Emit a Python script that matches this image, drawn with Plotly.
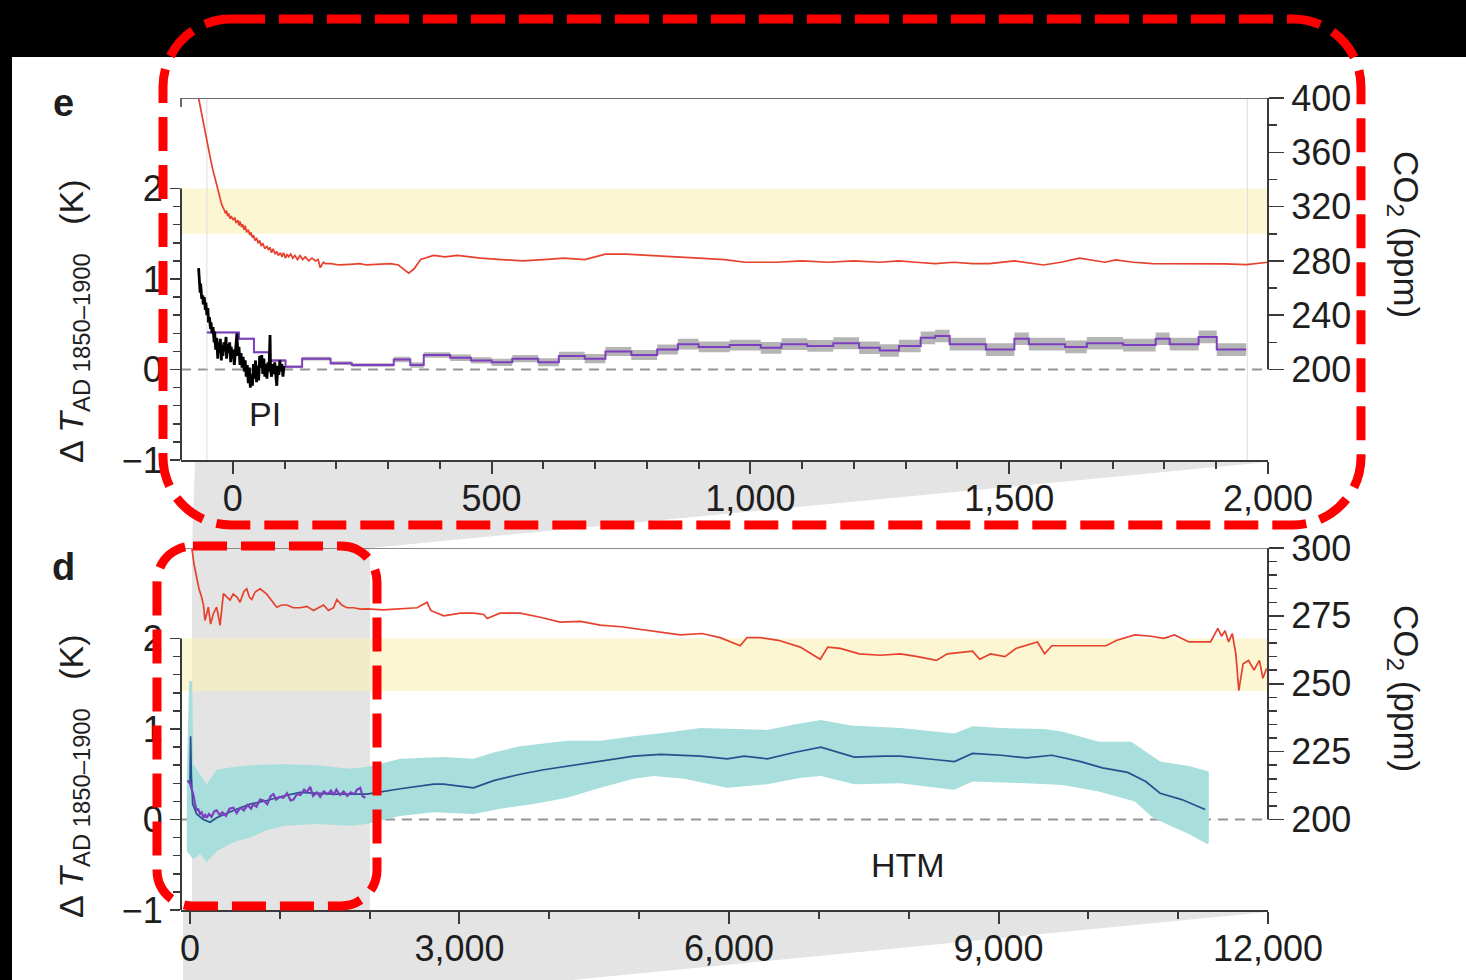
import plotly.graph_objects as go

W, H = 1466, 980

# ---------------- DATA ----------------
# Panel e (top): years, temperature anomaly (K) and CO2 (ppm)
e_co2_years = [-66, -60, -54, -49, -44, -39, -34, -29, -25, -21, -17, -14, -12, -10, -8, -5, -3, 1, 4, 6, 10, 12, 14, 17, 19, 22, 24, 27, 30, 33, 35, 38, 40, 43, 46, 49, 52, 55, 58, 62, 66, 69, 72, 75, 78, 82, 85, 88, 92, 95, 98, 102, 105, 108, 112, 116, 120, 125, 130, 135, 140, 147, 153, 160, 165, 169, 175, 179, 190, 205, 227, 245, 259, 280, 305, 320, 340, 350, 363, 388, 410, 434, 455, 479, 520, 560, 600, 640, 680, 720, 760, 800, 850, 900, 950, 990, 1050, 1100, 1150, 1200, 1250, 1287, 1320, 1357, 1392, 1430, 1462, 1510, 1566, 1600, 1636, 1685, 1706, 1740, 1777, 1847, 1916, 1958, 2000]
e_co2_ppm = [400, 388, 375, 366, 357, 348, 340, 332, 326, 321, 318, 315, 317, 313, 315, 311, 313, 310, 312, 308, 310, 306, 309, 305, 307, 303, 306, 301, 303, 299, 301, 297, 299, 295, 297, 293, 295, 291, 293, 289, 291, 288, 290, 286, 289, 285, 287, 284, 286, 283, 286, 282, 285, 283, 285, 282, 284, 281, 284, 281, 283, 280, 282, 280, 281, 275, 279, 278, 278, 277, 277.5, 278, 277, 277.5, 278, 277, 271, 274, 281, 284, 283, 284, 283, 282, 281, 280, 281, 282, 281, 285, 285, 284, 283, 282, 281, 279, 279, 280, 279, 280, 279, 280, 279, 278, 279, 278, 278, 280, 277, 279, 282, 279, 280.7, 279, 278, 278, 277.8, 277.3, 279]

pi_years = [-66, -65, -63, -62, -60, -58, -57, -55, -53, -52, -50, -48, -47, -45, -43, -42, -40, -38, -36, -35, -33, -31, -29, -28, -26, -24, -22, -21, -19, -17, -15, -13, -12, -10, -8, -6, -4, -3, -1, 1, 3, 5, 7, 8, 10, 12, 14, 16, 18, 20, 22, 24, 26, 28, 30, 32, 34, 36, 38, 40, 42, 44, 46, 48, 50, 52, 54, 56, 58, 60, 62, 64, 66, 68, 70, 72, 73, 75, 77, 79, 81, 83, 85, 87, 89, 91, 93, 95, 97, 99]
pi_temp = [1.12, 1.02, 0.85, 0.95, 0.78, 0.82, 0.72, 0.80, 0.66, 0.74, 0.60, 0.68, 0.52, 0.58, 0.45, 0.52, 0.40, 0.47, 0.30, 0.42, 0.22, 0.35, 0.12, 0.30, 0.18, 0.34, 0.10, 0.27, 0.15, 0.30, 0.20, 0.36, 0.12, 0.28, 0.18, 0.30, 0.08, 0.25, 0.12, 0.22, 0.05, 0.18, 0.28, 0.40, 0.15, 0.25, 0.05, 0.18, 0.02, 0.14, -0.02, 0.10, -0.08, 0.05, -0.15, 0.02, -0.20, -0.05, -0.18, 0.06, -0.10, 0.10, -0.14, 0.04, -0.12, 0.15, 0.02, 0.16, -0.05, 0.12, -0.08, 0.06, -0.10, 0.08, -0.02, 0.38, 0.00, -0.08, 0.06, -0.05, 0.08, -0.12, -0.18, 0.04, -0.06, 0.10, -0.02, 0.06, -0.08, 0.04]

e_step_years = [-50, 12, 41, 70, 102, 134, 189, 230, 311, 343, 369, 420, 460, 500, 540, 590, 630, 680, 720, 770, 820, 860, 900, 960, 1020, 1060, 1110, 1160, 1210, 1250, 1287, 1329, 1357, 1385, 1455, 1510, 1538, 1608, 1650, 1720, 1783, 1810, 1866, 1901, 1958]
e_step_temp = [0.41, 0.34, 0.19, 0.10, 0.03, 0.12, 0.07, 0.05, 0.11, 0.05, 0.16, 0.13, 0.10, 0.08, 0.12, 0.08, 0.15, 0.12, 0.20, 0.16, 0.22, 0.28, 0.25, 0.27, 0.24, 0.28, 0.26, 0.29, 0.24, 0.21, 0.26, 0.35, 0.37, 0.28, 0.22, 0.34, 0.28, 0.25, 0.29, 0.27, 0.34, 0.28, 0.36, 0.22, 0.22]
e_step_unc = [0.01, 0.01, 0.01, 0.015, 0.015, 0.02, 0.02, 0.02, 0.03, 0.03, 0.03, 0.035, 0.035, 0.04, 0.04, 0.045, 0.045, 0.05, 0.05, 0.055, 0.055, 0.06, 0.06, 0.06, 0.065, 0.065, 0.065, 0.065, 0.07, 0.07, 0.07, 0.07, 0.07, 0.07, 0.07, 0.07, 0.07, 0.07, 0.07, 0.07, 0.07, 0.07, 0.07, 0.07, 0.07]

# Panel d (bottom)
d_co2_years = [10, 19, 45, 74, 100, 130, 150, 167, 185, 204, 230, 260, 297, 335, 372, 410, 446, 480, 520, 558, 600, 632, 660, 688, 725, 781, 820, 855, 900, 966, 1020, 1078, 1150, 1227, 1300, 1375, 1430, 1487, 1540, 1598, 1635, 1690, 1747, 1821, 1900, 1970, 2150, 2342, 2528, 2639, 2680, 2714, 2825, 3011, 3160, 3271, 3308, 3450, 3675, 3900, 4120, 4350, 4566, 4800, 5011, 5250, 5457, 5700, 5902, 6125, 6200, 6347, 6550, 6793, 7016, 7100, 7238, 7450, 7684, 7908, 8100, 8309, 8430, 8711, 8791, 8912, 9072, 9193, 9434, 9514, 9594, 9900, 10197, 10317, 10518, 10700, 10839, 10960, 11120, 11361, 11442, 11482, 11522, 11562, 11602, 11642, 11675, 11723, 11783, 11844, 11904, 11944, 11984]
d_co2_ppm = [302, 300.4, 294, 289.3, 285, 281.9, 279, 273.3, 276, 278.2, 272, 275.8, 278.2, 271.5, 283.2, 282, 280.8, 283, 282, 280, 284, 285, 282, 281, 283.8, 285, 284, 283, 281, 278.2, 279, 279, 278, 278, 278.5, 277, 278, 279, 277, 278, 281, 279, 278, 278, 277.5, 277.6, 277.2, 277.5, 278, 280, 277, 276.5, 275, 276, 276, 275.5, 274, 276, 276, 274.5, 272.7, 273, 271.6, 271, 270, 269, 268, 268.5, 267, 264, 267, 267, 266, 263.5, 259, 263.5, 263, 261, 260.5, 261, 260, 258.6, 261, 262, 259, 261, 260, 263, 265.4, 261, 264, 264, 264, 266, 268, 267.5, 266.7, 268, 265.4, 265.4, 270.4, 267.5, 269.5, 265.4, 268.5, 261, 247.5, 257.4, 258.6, 255, 258.6, 252, 255.6]

d_mean_years = [-30, 0, 7, 15, 30, 74, 149, 223, 297, 483, 669, 855, 1041, 1227, 1598, 1970, 2342, 2714, 2822, 3156, 3379, 3677, 3937, 4197, 4569, 4940, 5238, 5684, 5981, 6167, 6427, 6725, 7022, 7394, 7728, 7908, 8309, 8510, 8711, 9032, 9313, 9594, 9916, 10157, 10438, 10639, 10799, 11040, 11301]
d_mean_temp = [0.43, 0.40, 0.92, 0.50, 0.17, 0.06, 0.00, -0.03, 0.02, 0.10, 0.17, 0.21, 0.26, 0.30, 0.28, 0.28, 0.34, 0.39, 0.39, 0.35, 0.43, 0.50, 0.55, 0.59, 0.65, 0.70, 0.72, 0.70, 0.67, 0.70, 0.67, 0.74, 0.80, 0.69, 0.70, 0.70, 0.66, 0.64, 0.73, 0.71, 0.68, 0.71, 0.64, 0.57, 0.52, 0.42, 0.29, 0.22, 0.11]

d_upper_years = [-35, -10, 25, 37, 111, 186, 297, 483, 669, 1041, 1412, 1784, 1970, 2342, 2822, 3156, 3379, 3677, 4197, 4569, 4940, 5312, 5684, 6056, 6427, 6725, 7022, 7356, 7908, 8309, 8510, 8711, 9032, 9514, 9715, 10117, 10478, 10799, 11120, 11341]
d_upper_temp = [0.50, 1.53, 1.53, 0.61, 0.50, 0.39, 0.55, 0.58, 0.60, 0.61, 0.60, 0.56, 0.58, 0.67, 0.69, 0.67, 0.74, 0.81, 0.87, 0.87, 0.92, 0.96, 1.01, 1.00, 0.99, 1.05, 1.10, 1.04, 1.01, 0.97, 0.95, 1.03, 1.01, 1.00, 0.97, 0.86, 0.86, 0.64, 0.59, 0.53]
d_lower_years = [-35, 37, 111, 186, 297, 483, 669, 855, 1041, 1412, 1784, 1970, 2338, 2710, 3156, 3453, 3825, 4197, 4569, 4940, 5164, 5498, 5981, 6427, 6800, 7022, 7394, 7908, 8309, 8510, 8711, 9313, 9715, 10117, 10518, 10719, 10960, 11120, 11321, 11341]
d_lower_temp = [-0.35, -0.44, -0.38, -0.47, -0.35, -0.25, -0.20, -0.12, -0.07, -0.05, -0.07, -0.05, 0.04, 0.08, 0.06, 0.12, 0.17, 0.24, 0.35, 0.45, 0.48, 0.45, 0.35, 0.39, 0.46, 0.48, 0.39, 0.40, 0.35, 0.33, 0.42, 0.40, 0.38, 0.31, 0.20, 0.02, -0.09, -0.16, -0.27, -0.26]

d_purple_years = [-19, 0, 20, 37, 55, 74, 90, 111, 130, 150, 170, 186, 210, 240, 270, 297, 330, 360, 400, 440, 483, 520, 560, 600, 640, 680, 706, 740, 780, 818, 860, 900, 929, 960, 1000, 1040, 1080, 1120, 1152, 1190, 1230, 1270, 1300, 1338, 1370, 1412, 1450, 1490, 1530, 1570, 1598, 1630, 1670, 1710, 1750, 1790, 1830, 1860, 1896, 1920, 1951]
d_purple_temp = [0.43, 0.40, 0.33, 0.28, 0.18, 0.10, 0.12, 0.06, 0.08, 0.02, 0.05, 0.02, 0.06, 0.03, 0.09, 0.10, 0.05, 0.08, 0.04, 0.12, 0.13, 0.07, 0.13, 0.10, 0.16, 0.12, 0.17, 0.14, 0.22, 0.21, 0.17, 0.26, 0.28, 0.22, 0.25, 0.24, 0.29, 0.21, 0.22, 0.28, 0.27, 0.33, 0.30, 0.36, 0.26, 0.30, 0.25, 0.31, 0.28, 0.32, 0.27, 0.33, 0.27, 0.31, 0.26, 0.30, 0.28, 0.33, 0.35, 0.26, 0.24]

e_xticks = [0, 500, 1000, 1500, 2000]
e_xticklabels = ["0", "500", "1,000", "1,500", "2,000"]
d_xticks = [0, 3000, 6000, 9000, 12000]
d_xticklabels = ["0", "3,000", "6,000", "9,000", "12,000"]
k_ticks = [-1, 0, 1, 2]
k_ticklabels = ["\u22121", "0", "1", "2"]
e_co2_ticks = [200, 240, 280, 320, 360, 400]
d_co2_ticks = [200, 225, 250, 275, 300]

# ---------------- STYLE ----------------
FONT = "Liberation Sans, Arial, Helvetica, sans-serif"
TXT = "#1e1e1e"
AX = "#3a3a3a"
RED = "#e5412d"
PURPLE = "#7d3fc0"
BLUE = "#27508f"
CYAN = "#a8dedb"


def pxx(x):
    return x / W


def pyy(y):
    return 1 - y / H


X_DOM = [pxx(181), pxx(1268)]
E_DOM = [pyy(460), pyy(98)]
D_DOM = [pyy(910), pyy(548)]

fig = go.Figure()

# ---- panel e traces ----
e_up = [t + u for t, u in zip(e_step_temp, e_step_unc)]
e_lo = [t - u for t, u in zip(e_step_temp, e_step_unc)]
fig.add_trace(go.Scatter(x=e_step_years, y=e_up, mode="lines", line=dict(width=0, shape="hv"),
                         hoverinfo="skip", showlegend=False, xaxis="x", yaxis="y"))
fig.add_trace(go.Scatter(x=e_step_years, y=e_lo, mode="lines", line=dict(width=0, shape="hv"),
                         fill="tonexty", fillcolor="rgba(150,150,150,0.7)",
                         hoverinfo="skip", showlegend=False, xaxis="x", yaxis="y"))
fig.add_trace(go.Scatter(x=e_step_years, y=e_step_temp, mode="lines",
                         line=dict(color=PURPLE, width=2, shape="hv"),
                         showlegend=False, xaxis="x", yaxis="y"))
fig.add_trace(go.Scatter(x=pi_years, y=pi_temp, mode="lines", line=dict(color="#000000", width=2.8),
                         showlegend=False, xaxis="x", yaxis="y"))
fig.add_trace(go.Scatter(x=e_co2_years, y=e_co2_ppm, mode="lines", line=dict(color=RED, width=1.7),
                         showlegend=False, xaxis="x", yaxis="y2"))

# ---- panel d traces ----
band_x = d_upper_years + d_lower_years[::-1]
band_y = d_upper_temp + d_lower_temp[::-1]
fig.add_trace(go.Scatter(x=band_x, y=band_y, mode="lines", fill="toself", fillcolor=CYAN,
                         line=dict(width=0), hoverinfo="skip", showlegend=False,
                         xaxis="x2", yaxis="y3"))
fig.add_trace(go.Scatter(x=d_mean_years, y=d_mean_temp, mode="lines", line=dict(color=BLUE, width=1.7),
                         showlegend=False, xaxis="x2", yaxis="y3"))
fig.add_trace(go.Scatter(x=d_purple_years, y=d_purple_temp, mode="lines", line=dict(color=PURPLE, width=2.2),
                         showlegend=False, xaxis="x2", yaxis="y3"))
fig.add_trace(go.Scatter(x=d_co2_years, y=d_co2_ppm, mode="lines", line=dict(color=RED, width=1.7),
                         showlegend=False, xaxis="x2", yaxis="y4"))

tickfont = dict(family=FONT, size=36, color=TXT)


def minor_list(start, stop, step, exclude):
    vals = []
    v = start
    while v <= stop + 1e-9:
        if all(abs(v - e) > 1e-6 for e in exclude):
            vals.append(round(v, 4))
        v += step
    return vals


common_x = dict(showgrid=False, zeroline=False, showline=True, linecolor=AX, linewidth=2,
                ticks="outside", tickcolor=AX, tickwidth=2, ticklen=12, tickfont=tickfont,
                automargin=False, fixedrange=True, ticklabelstandoff=-6)
common_y = dict(showgrid=False, zeroline=False, showline=False, ticks="outside",
                tickcolor=AX, tickwidth=1.5, tickfont=tickfont, automargin=False, fixedrange=True)

fig.update_layout(
    width=W, height=H, margin=dict(l=0, r=0, t=0, b=0), autosize=False,
    paper_bgcolor="white", plot_bgcolor="rgba(0,0,0,0)", showlegend=False,
    xaxis=dict(domain=X_DOM, range=[-100, 2000], anchor="y", tickmode="array",
               tickvals=e_xticks, ticktext=e_xticklabels,
               minor=dict(tickmode="array", tickvals=minor_list(100, 1900, 100, e_xticks),
                          ticks="outside", ticklen=7, tickcolor=AX, tickwidth=2),
               **common_x),
    yaxis=dict(domain=E_DOM, range=[-1, 3], anchor="x", tickmode="array",
               tickvals=k_ticks, ticktext=k_ticklabels, ticklen=10,
               minor=dict(tickmode="array", tickvals=minor_list(-0.8, 1.8, 0.2, k_ticks),
                          ticks="outside", ticklen=7, tickcolor=AX, tickwidth=1.5),
               **common_y),
    yaxis2=dict(range=[133.333, 400], overlaying="y", side="right", anchor="x",
                tickmode="array", tickvals=e_co2_ticks, ticklen=15,
                minor=dict(tickmode="array", tickvals=minor_list(220, 380, 40, []),
                           ticks="outside", ticklen=8, tickcolor=AX, tickwidth=1.5),
                **common_y),
    xaxis2=dict(domain=X_DOM, range=[-100, 12000], anchor="y3", tickmode="array",
                tickvals=d_xticks, ticktext=d_xticklabels,
                minor=dict(tickmode="array", tickvals=minor_list(1000, 11000, 1000, d_xticks),
                           ticks="outside", ticklen=7, tickcolor=AX, tickwidth=2),
                **common_x),
    yaxis3=dict(domain=D_DOM, range=[-1, 3], anchor="x2", tickmode="array",
                tickvals=k_ticks, ticktext=k_ticklabels, ticklen=10,
                minor=dict(tickmode="array", tickvals=minor_list(-0.8, 1.8, 0.2, k_ticks),
                           ticks="outside", ticklen=7, tickcolor=AX, tickwidth=1.5),
                **common_y),
    yaxis4=dict(range=[166.667, 300], overlaying="y3", side="right", anchor="x2",
                tickmode="array", tickvals=d_co2_ticks, ticklen=15,
                minor=dict(tickmode="array", tickvals=minor_list(205, 295, 5, d_co2_ticks),
                           ticks="outside", ticklen=8, tickcolor=AX, tickwidth=1.5),
                **common_y),
)

shapes = []


def poly(points, color, layer="below"):
    path = "M " + " L ".join(f"{pxx(x):.5f},{pyy(y):.5f}" for x, y in points) + " Z"
    return dict(type="path", xref="paper", yref="paper", path=path, fillcolor=color,
                line=dict(width=0), layer=layer)


# gray zoom lenses
shapes.append(poly([(195, 462), (1268, 462), (370, 548), (370, 910), (192, 910), (192, 548)], "#e4e4e4"))
shapes.append(poly([(183, 912), (1268, 912), (183, 1018)], "#e4e4e4"))

# yellow bands
shapes.append(dict(type="rect", xref="paper", yref="y", x0=X_DOM[0], x1=X_DOM[1], y0=1.5, y1=2.0,
                   fillcolor="rgba(252,240,180,0.6)", line=dict(width=0), layer="below"))
shapes.append(dict(type="rect", xref="paper", yref="y3", x0=X_DOM[0], x1=X_DOM[1], y0=1.42, y1=2.0,
                   fillcolor="rgba(252,240,180,0.6)", line=dict(width=0), layer="below"))

# faint vertical markers in panel e
for xv in [-50, 1960]:
    shapes.append(dict(type="line", xref="x", yref="y", x0=xv, x1=xv, y0=-1, y1=3,
                       line=dict(color="#dcdcdc", width=1), layer="below"))

# zero dashed lines
shapes.append(dict(type="line", xref="paper", yref="y", x0=X_DOM[0], x1=X_DOM[1], y0=0, y1=0,
                   line=dict(color="#959595", width=2, dash="10px,7px"), layer="below"))
shapes.append(dict(type="line", xref="paper", yref="y3", x0=X_DOM[0], x1=X_DOM[1], y0=0, y1=0,
                   line=dict(color="#959595", width=2, dash="10px,7px"), layer="below"))

# panel top borders
shapes.append(dict(type="line", xref="paper", yref="y", x0=X_DOM[0], x1=X_DOM[1], y0=3, y1=3,
                   line=dict(color="#6a6a6a", width=2), layer="above"))
shapes.append(dict(type="line", xref="paper", yref="y", x0=X_DOM[0], x1=X_DOM[0], y0=2.9, y1=3,
                   line=dict(color="#6a6a6a", width=2), layer="above"))
shapes.append(dict(type="line", xref="paper", yref="y3", x0=X_DOM[0], x1=X_DOM[1], y0=3, y1=3,
                   line=dict(color="#8a8a8a", width=2), layer="above"))

# partial axis lines
shapes.append(dict(type="line", xref="paper", yref="y", x0=X_DOM[0], x1=X_DOM[0], y0=-1, y1=2,
                   line=dict(color=AX, width=2), layer="above"))
shapes.append(dict(type="line", xref="paper", yref="y2", x0=X_DOM[1], x1=X_DOM[1], y0=200, y1=400,
                   line=dict(color=AX, width=2), layer="above"))
shapes.append(dict(type="line", xref="paper", yref="y3", x0=X_DOM[0], x1=X_DOM[0], y0=-1, y1=2,
                   line=dict(color=AX, width=2), layer="above"))
shapes.append(dict(type="line", xref="paper", yref="y4", x0=X_DOM[1], x1=X_DOM[1], y0=200, y1=300,
                   line=dict(color=AX, width=2), layer="above"))

# black frame strips
shapes.append(dict(type="rect", xref="paper", yref="paper", x0=0, x1=1, y0=pyy(57), y1=1.01,
                   fillcolor="black", line=dict(width=0), layer="above"))
shapes.append(dict(type="rect", xref="paper", yref="paper", x0=-0.01, x1=pxx(12), y0=-0.01, y1=1.01,
                   fillcolor="black", line=dict(width=0), layer="above"))


def rounded(x0, y0, x1, y1, r):
    k = 0.5523 * r
    pts = [
        ("M", [(x0 + r, y0)]),
        ("L", [(x1 - r, y0)]),
        ("C", [(x1 - r + k, y0), (x1, y0 + r - k), (x1, y0 + r)]),
        ("L", [(x1, y1 - r)]),
        ("C", [(x1, y1 - r + k), (x1 - r + k, y1), (x1 - r, y1)]),
        ("L", [(x0 + r, y1)]),
        ("C", [(x0 + r - k, y1), (x0, y1 - r + k), (x0, y1 - r)]),
        ("L", [(x0, y0 + r)]),
        ("C", [(x0, y0 + r - k), (x0 + r - k, y0), (x0 + r, y0)]),
    ]
    s = ""
    for cmd, ps in pts:
        s += cmd + " " + " ".join(f"{pxx(a):.5f},{pyy(b):.5f}" for a, b in ps) + " "
    return s + "Z"


for rect in [(163, 19, 1361, 525, 68), (157, 546, 377, 906, 36)]:
    shapes.append(dict(type="path", xref="paper", yref="paper", path=rounded(*rect),
                       line=dict(color="#ff0000", width=9, dash="34px,14px"),
                       fillcolor="rgba(0,0,0,0)", layer="above"))

fig.update_layout(shapes=shapes)

ann = []


def txt(x, y, text, size, angle=0, bold=False):
    ann.append(dict(xref="paper", yref="paper", x=pxx(x), y=pyy(y), text=f"<b>{text}</b>" if bold else text,
                    showarrow=False, xanchor="center", yanchor="middle", textangle=angle,
                    font=dict(family=FONT, size=size, color=TXT)))


txt(63, 103, "e", 38, bold=True)
txt(63, 567, "d", 38, bold=True)
txt(265, 414, "PI", 34)
txt(908, 865, "HTM", 34)
ytitle = "\u0394 <i>T</i><sub>AD 1850\u20131900</sub>\u00a0\u00a0\u00a0(K)"
txt(73, 321, ytitle, 34, angle=-90)
txt(73, 776, ytitle, 34, angle=-90)
ctitle = "CO<sub>2</sub> (ppm)"
txt(1404, 234, ctitle, 35, angle=90)
txt(1404, 688, ctitle, 35, angle=90)

fig.update_layout(annotations=ann)

fig.write_html("out.html", config={"displayModeBar": False, "staticPlot": True},
               post_script="document.body.style.margin='0';document.body.style.overflow='hidden';")
